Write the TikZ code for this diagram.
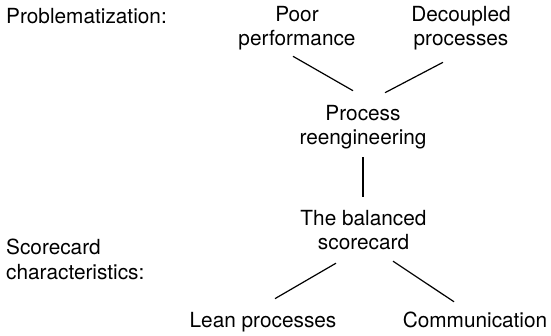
\documentclass[tikz,border=0pt]{standalone}
\usepackage{fontspec}
\setmainfont{TeX Gyre Heros}

\begin{document}
\begin{tikzpicture}[x=1pt,y=-1pt,
    lbl/.style={inner sep=0pt,align=center,font=\fontsize{20.8}{24.5}\selectfont},
    side/.style={lbl,align=left},
    link/.style={line width=1.2pt}]
            \useasboundingbox (0,0) rectangle (551,335);
            \node[side,anchor=base west] (prob) at (6,23) {Problematization:};
            \node[side,anchor=west] (chars) at (6,259.5) {Scorecard\\characteristics:};
            \node[lbl] (poor) at (297,28) {Poor\\performance};
            \node[lbl] (decoupled) at (461,28) {Decoupled\\processes};
            \node[lbl] (reeng) at (363,127) {Process\\reengineering};
            \node[lbl] (bsc) at (363.5,230) {The balanced\\scorecard};
            \node[lbl,anchor=base] (lean) at (263,327) {Lean processes};
            \node[lbl,anchor=base] (comm) at (475,327) {Communication};
            \draw[link] ([shift={(-4,6)}]poor.south) -- ([shift={(-10,-14)}]reeng.north);
            \draw[link] ([shift={(-18,12)}]decoupled.south) -- ([shift={(22,-12)}]reeng.north);
            \draw[link] ([shift={(0,8)}]reeng.south) -- ([shift={(-0.5,-13)}]bsc.north);
            \draw[link] ([shift={(-27.5,13)}]bsc.south) -- ([shift={(12,-13)}]lean.north);
            \draw[link] ([shift={(29.5,11)}]bsc.south) -- ([shift={(-21,-9.5)}]comm.north);
        \end{tikzpicture}
\end{document}
